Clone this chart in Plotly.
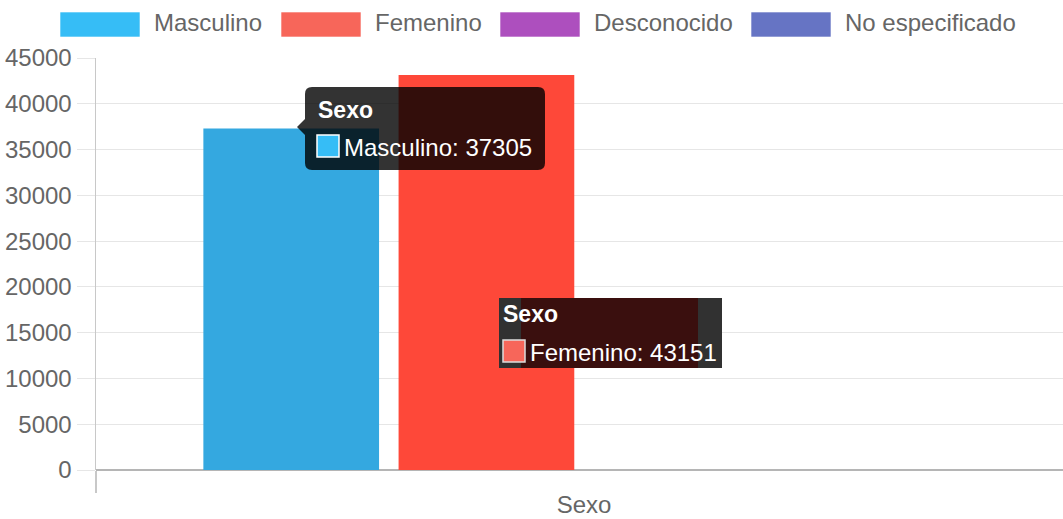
import plotly.graph_objects as go

categories = ["Sexo"]
series_names = ["Masculino", "Femenino", "Desconocido", "No especificado"]
masculino = [37305]
femenino = [43151]
desconocido = [0]
no_especificado = [0]
y_ticks = [0, 5000, 10000, 15000, 20000, 25000, 30000, 35000, 40000, 45000]

bar_colors = ["#34a8e0", "#fe4839", "#ad4fbe", "#6674c4"]
legend_colors = ["#36bdf6", "#f7665a", "#ad4fbe", "#6674c4"]

W, H = 1063, 519
L, R, T, B = 96, 0, 58, 49
PW = W - L - R
PH = H - T - B
FONT = "Liberation Sans, Arial, sans-serif"
TXT = "#666666"


def px(x):
    return (x - L) / PW


def py(y):
    return (H - B - y) / PH


fig = go.Figure()
for name, vals, col in zip(series_names, [masculino, femenino, desconocido, no_especificado], bar_colors):
    fig.add_trace(go.Bar(x=categories, y=vals, name=name, marker=dict(color=col, line=dict(width=0)),
                         showlegend=False, hoverinfo="skip"))

shapes = []
annotations = []

# custom legend
legend_pos = [(60, 152), (281, 373), (500, 592), (751, 843)]
for (bx, tx), name, col in zip(legend_pos, series_names, legend_colors):
    shapes.append(dict(type="rect", xref="paper", yref="paper", x0=px(bx), x1=px(bx + 80),
                       y0=py(37), y1=py(12), fillcolor=col, line=dict(color="rgba(255,255,255,0.6)", width=1)))
    annotations.append(dict(xref="paper", yref="paper", x=px(tx), y=py(23), xanchor="left", yanchor="middle",
                            text=name, showarrow=False, font=dict(family=FONT, size=24, color=TXT)))


def rounded_path(x0, y0, x1, y1, r, caret=None):
    rx = r / PW
    ry = r / PH
    X0, X1 = px(x0), px(x1)
    Y0, Y1 = py(y1), py(y0)
    p = f"M {X0+rx},{Y1} L {X1-rx},{Y1} Q {X1},{Y1} {X1},{Y1-ry} L {X1},{Y0+ry} Q {X1},{Y0} {X1-rx},{Y0} "
    p += f"L {X0+rx},{Y0} Q {X0},{Y0} {X0},{Y0+ry} "
    if caret:
        tx, ty, h = caret
        p += f"L {X0},{py(ty + h)} L {px(tx)},{py(ty)} L {X0},{py(ty - h)} "
    p += f"L {X0},{Y1-ry} Q {X0},{Y1} {X0+rx},{Y1} Z"
    return p


# tooltip 1 (Masculino)
shapes.append(dict(type="path", xref="paper", yref="paper",
                   path=rounded_path(305, 87, 545, 170, 7, caret=(297, 127, 8)),
                   fillcolor="rgba(0,0,0,0.8)", line=dict(width=0)))
shapes.append(dict(type="rect", xref="paper", yref="paper", x0=px(317), x1=px(339), y0=py(157), y1=py(135),
                   fillcolor=legend_colors[0], line=dict(color="#ffffff", width=1.5)))
annotations.append(dict(xref="paper", yref="paper", x=px(316), y=py(110), xanchor="left", yanchor="middle",
                        text="<b>" + categories[0] + "</b>", showarrow=False,
                        font=dict(family=FONT, size=23, color="#ffffff")))
annotations.append(dict(xref="paper", yref="paper", x=px(342), y=py(147), xanchor="left", yanchor="middle",
                        text=f"{series_names[0]}: {masculino[0]}", showarrow=False,
                        font=dict(family=FONT, size=24, color="#ffffff")))

# tooltip 2 (Femenino)
shapes.append(dict(type="rect", xref="paper", yref="paper", x0=px(499), x1=px(722), y0=py(368), y1=py(298),
                   fillcolor="#313131", line=dict(width=0)))
shapes.append(dict(type="rect", xref="paper", yref="paper", x0=px(521), x1=px(698), y0=py(368), y1=py(298),
                   fillcolor="#3a0f0e", line=dict(width=0)))
shapes.append(dict(type="rect", xref="paper", yref="paper", x0=px(503), x1=px(525), y0=py(362), y1=py(340),
                   fillcolor=legend_colors[1], line=dict(color="#dddddd", width=1.5)))
annotations.append(dict(xref="paper", yref="paper", x=px(501), y=py(314), xanchor="left", yanchor="middle",
                        text="<b>" + categories[0] + "</b>", showarrow=False,
                        font=dict(family=FONT, size=23, color="#ffffff")))
annotations.append(dict(xref="paper", yref="paper", x=px(528), y=py(352), xanchor="left", yanchor="middle",
                        text=f"{series_names[1]}: {femenino[0]}", showarrow=False,
                        font=dict(family=FONT, size=24, color="#ffffff")))

fig.update_layout(
    width=W, height=H,
    margin=dict(l=L, r=R, t=T, b=B),
    paper_bgcolor="white", plot_bgcolor="white",
    barmode="group", bargap=0.2, bargroupgap=0.1,
    showlegend=False, hovermode=False,
    shapes=shapes, annotations=annotations,
    font=dict(family=FONT, size=24, color=TXT),
    xaxis=dict(type="category", range=[-0.5, 0.4907], showgrid=False, ticks="outside", tickson="boundaries",
               ticklen=22, tickcolor="#c8c8c8", tickwidth=1.5, showline=False, ticklabelstandoff=18,
               tickfont=dict(family=FONT, size=24, color=TXT)),
    yaxis=dict(range=[0, 45000], tickvals=y_ticks, ticktext=[str(v) for v in y_ticks],
               showgrid=True, gridcolor="#e6e6e6", gridwidth=1,
               ticks="outside", ticklen=18, tickcolor="#e6e6e6",
               showline=True, linecolor="#c8c8c8", linewidth=1.5,
               zeroline=True, zerolinecolor="#b5b5b5", zerolinewidth=1.5,
               tickfont=dict(family=FONT, size=24, color=TXT)),
)

fig.write_html("out.html", config={"displayModeBar": False, "staticPlot": True},
               post_script="document.body.style.margin='0';document.body.style.overflow='hidden';")
